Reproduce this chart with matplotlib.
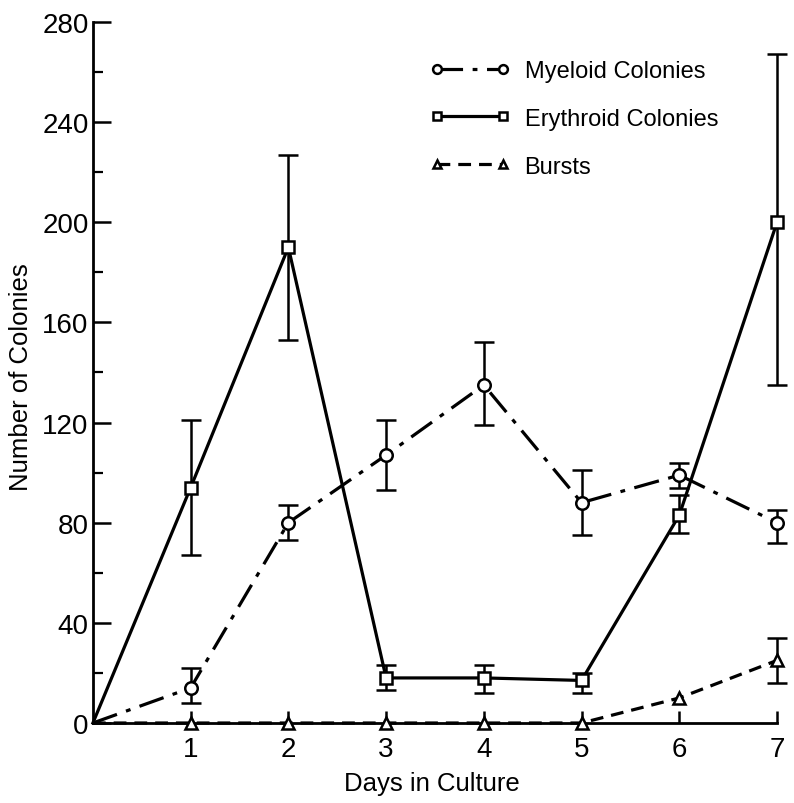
import matplotlib.pyplot as plt
import numpy as np

plt.rcParams['font.family'] = ['Liberation Sans', 'DejaVu Sans']

days = [0, 1, 2, 3, 4, 5, 6, 7]

# mean colony counts per day
myeloid = [0, 14, 80, 107, 135, 88, 99, 80]
erythroid = [0, 94, 190, 18, 18, 17, 83, 200]
bursts = [0, 0, 0, 0, 0, 0, 10, 25]

# error bar ends (low, high); None where no bar is drawn
myeloid_lo = [None, 8, 73, 93, 119, 75, 94, 72]
myeloid_hi = [None, 22, 87, 121, 152, 101, 104, 85]
erythroid_lo = [None, 67, 153, 13, 12, 12, 76, 135]
erythroid_hi = [None, 121, 227, 23, 23, 20, 91, 267]
bursts_lo = [None, None, None, None, None, None, None, 16]
bursts_hi = [None, None, None, None, None, None, None, 34]

y_ticks = [0, 40, 80, 120, 160, 200, 240, 280]
x_ticks = [1, 2, 3, 4, 5, 6, 7]

fig = plt.figure(figsize=(7.94, 8.04), dpi=100)
ax = fig.add_axes([0.117, 0.0995, 0.8616, 0.872])


def draw_bars(vals, lo, hi):
    idx = [i for i in range(len(days)) if lo[i] is not None]
    x = np.array([days[i] for i in idx])
    v = np.array([vals[i] for i in idx])
    l = np.array([lo[i] for i in idx])
    h = np.array([hi[i] for i in idx])
    _, caps, bars = ax.errorbar(x, v, yerr=[v - l, h - v], fmt='none', ecolor='black',
                                elinewidth=1.8, capsize=7, capthick=1.8, zorder=2)
    for artist in list(caps) + list(bars):
        artist.set_clip_on(False)


draw_bars(myeloid, myeloid_lo, myeloid_hi)
draw_bars(erythroid, erythroid_lo, erythroid_hi)
draw_bars(bursts, bursts_lo, bursts_hi)

# no marker at the day-0 origin
marker_style = dict(color='black', markerfacecolor='white', markeredgecolor='black',
                    markeredgewidth=1.8, linewidth=2.3, clip_on=False,
                    markevery=list(range(1, len(days))))
ax.plot(days, myeloid, marker='o', markersize=9, dashes=(8, 3, 1.5, 3),
        label='Myeloid Colonies', zorder=3, **marker_style)
ax.plot(days, erythroid, marker='s', markersize=8, linestyle='-',
        label='Erythroid Colonies', zorder=3, **marker_style)
ax.plot(days, bursts, marker='^', markersize=9, dashes=(4, 2.5),
        label='Bursts', zorder=3, **marker_style)

ax.set_xlim(0, 7)
ax.set_ylim(0, 280)
ax.set_xticks(x_ticks)
ax.set_yticks(y_ticks)
ax.set_yticks(np.arange(20, 280, 40), minor=True)
ax.tick_params(axis='y', which='major', direction='in', length=13, width=1.8,
               labelsize=20, pad=3)
ax.tick_params(axis='y', which='minor', direction='in', length=7, width=1.6)
ax.tick_params(axis='x', which='major', direction='in', length=9, width=1.8,
               labelsize=20, pad=9)

for side in ('top', 'right'):
    ax.spines[side].set_visible(False)
for side in ('left', 'bottom'):
    ax.spines[side].set_linewidth(2)

ax.set_xlabel('Days in Culture', fontsize=18.5)
ax.set_ylabel('Number of Colonies', fontsize=18.5)
ax.xaxis.set_label_coords(0.496, -0.068)
ax.yaxis.set_label_coords(-0.088, 0.495)

leg = ax.legend(loc='upper left', bbox_to_anchor=(0.493, 0.946), frameon=False,
                fontsize=17, numpoints=2, handlelength=3.4, handletextpad=0.6,
                labelspacing=1.1, markerscale=0.7, borderpad=0, borderaxespad=0)
for line in leg.get_lines():
    line.set_markevery(None)

fig.savefig('out.png', dpi=100)
